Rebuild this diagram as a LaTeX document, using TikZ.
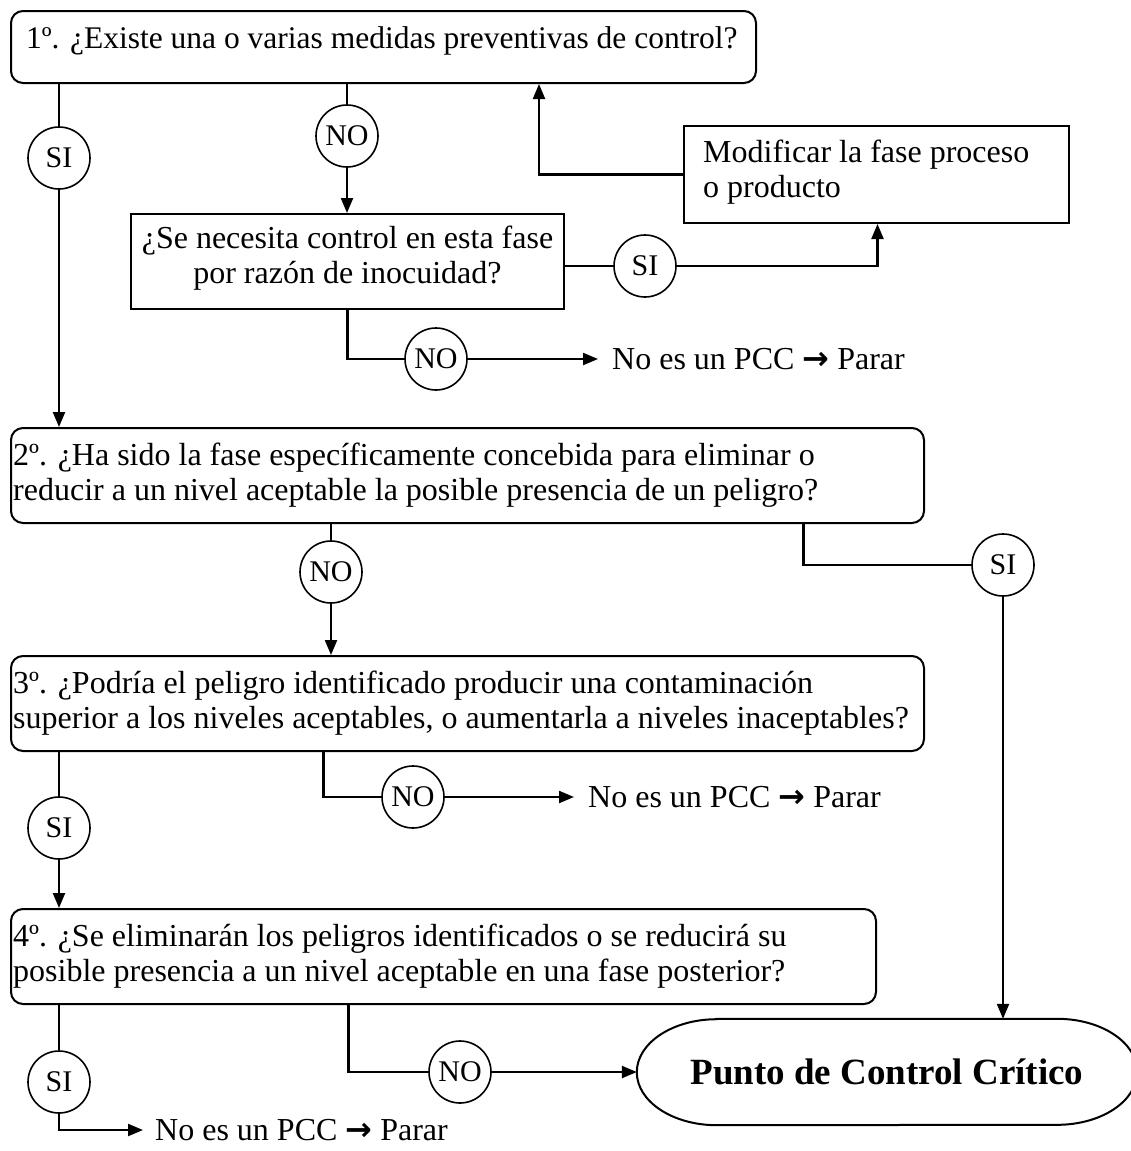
\documentclass[tikz,border=0pt]{standalone}
\usepackage{fontspec}
\setmainfont{Liberation Serif}
\newfontfamily\arrowglyphfont{DejaVu Sans}
\usetikzlibrary{arrows.meta}
\newcommand\stoparrow{{\arrowglyphfont\bfseries →}}
\begin{document}
\begin{tikzpicture}[x=1pt, y=-1pt,
  font=\fontsize{32}{35}\selectfont,
  qbox/.style={draw, line width=2pt, rounded corners=12pt, anchor=north west, inner sep=0pt},
  sqbox/.style={draw, line width=2pt, anchor=north west, inner sep=0pt},
  qtext/.style={anchor=west, align=left, inner sep=0pt},
  ans/.style={draw, circle, line width=1.6pt, minimum size=62pt, inner sep=0pt,
              font=\fontsize{30}{32}\selectfont},
  conn/.style={line width=2.2pt},
  arr/.style={conn, -{Triangle[length=15pt, width=12pt]}},
  stoptext/.style={anchor=west, inner sep=0pt}
]
\useasboundingbox (0,0) rectangle (1131,1151);

% question boxes
\node[qbox, minimum width=745pt, minimum height=72pt] (q1) at (10,10) {};
\node[qtext, font=\fontsize{31.5}{35}\selectfont] (q1t) at ([xshift=16pt, yshift=6pt]q1.west)
  {1º. ¿Existe una o varias medidas preventivas de control?};

\node[sqbox, minimum width=433pt, minimum height=95pt] (sn) at (130,213) {};
\node[align=center, inner sep=0pt] (snt) at ([yshift=3pt]sn.center)
  {¿Se necesita control en esta fase\\por razón de inocuidad?};

\node[sqbox, minimum width=385pt, minimum height=97pt] (mod) at (683,125) {};
\node[qtext] (modt) at ([xshift=20pt, yshift=2pt]mod.west)
  {Modificar la fase proceso\\o producto};

\node[qbox, minimum width=913pt, minimum height=95pt] (q2) at (10,427) {};
\node[qtext] (q2t) at ([xshift=3pt]q2.west)
  {2º. ¿Ha sido la fase específicamente concebida para eliminar o\\
   reducir a un nivel aceptable la posible presencia de un peligro?};

\node[qbox, minimum width=913pt, minimum height=95pt] (q3) at (10,655) {};
\node[qtext] (q3t) at ([xshift=3pt]q3.west)
  {3º. ¿Podría el peligro identificado producir una contaminación\\
   superior a los niveles aceptables, o aumentarla a niveles inaceptables?};

\node[qbox, minimum width=865pt, minimum height=95pt] (q4) at (10,908) {};
\node[qtext] (q4t) at ([xshift=3pt]q4.west)
  {4º. ¿Se eliminarán los peligros identificados o se reducirá su\\
   posible presencia a un nivel aceptable en una fase posterior?};

% terminal: critical control point
\node[minimum width=500pt, minimum height=106pt, inner sep=0pt,
      font=\fontsize{37}{40}\selectfont\bfseries] (pcc) at (887,1072)
  {Punto de Control Crítico};
\draw[line width=2pt]
  ([xshift=80pt]pcc.north west) -- ([xshift=-80pt]pcc.north east)
  arc[start angle=90, end angle=-90, x radius=80pt, y radius=53pt]
  -- ([xshift=80pt]pcc.south west)
  arc[start angle=270, end angle=90, x radius=80pt, y radius=53pt] -- cycle;

% answer circles
\node[ans] (si1) at (59,158) {SI};
\node[ans] (no1) at (347,136) {NO};
\node[ans] (si2) at (645,266) {SI};
\node[ans] (no2) at (436,359) {NO};
\node[ans] (no3) at (331,572) {NO};
\node[ans] (si3) at (1003,565) {SI};
\node[ans] (si4) at (59,828) {SI};
\node[ans] (no4) at (413,797) {NO};
\node[ans] (si5) at (59,1082) {SI};
\node[ans] (no5) at (460,1072) {NO};

% stop messages
\node[stoptext] (stop1) at (612,359) {No es un PCC \stoparrow{} Parar};
\node[stoptext] (stop2) at (588,797) {No es un PCC \stoparrow{} Parar};
\node[stoptext] (stop3) at (155,1130) {No es un PCC \stoparrow{} Parar};

% step 1
\draw[conn] (si1 |- q1.south) -- (si1);
\draw[arr] (si1) -- (si1 |- q2.north);
\draw[conn] (no1 |- q1.south) -- (no1);
\draw[arr] (no1) -- (no1 |- sn.north);
\draw[conn] (sn.east |- si2) -- (si2);
\draw[arr] (si2) -| ([xshift=1pt]mod.south);
\coordinate (back) at (539,0);
\draw[arr] (mod.west) -| (back |- q1.south);
\draw[conn] (sn.south) |- (no2.west);
\draw[arr] (no2.east) -- ([xshift=-14pt]stop1.west);

% step 2
\draw[conn] (no3 |- q2.south) -- (no3);
\draw[arr] (no3) -- (no3 |- q3.north);
\draw[conn] ([xshift=336pt]q2.south) |- (si3.west);
\draw[arr] (si3) -- (si3 |- pcc.north);

% step 3
\draw[conn] (si4 |- q3.south) -- (si4);
\draw[arr] (si4) -- (si4 |- q4.north);
\draw[conn] ([xshift=-144pt]q3.south) |- (no4.west);
\draw[arr] (no4.east) -- ([xshift=-14pt]stop2.west);

% step 4
\draw[conn] (si5 |- q4.south) -- (si5);
\draw[arr] (si5) |- ([xshift=-12pt]stop3.west);
\draw[conn] ([xshift=-95pt]q4.south) |- (no5.west);
\draw[arr] (no5.east) -- (pcc.west);
\end{tikzpicture}
\end{document}
